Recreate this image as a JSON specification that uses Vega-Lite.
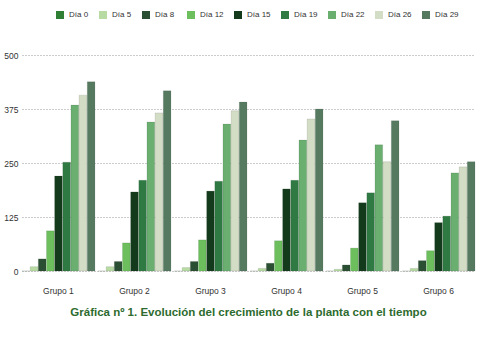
{
  "$schema": "https://vega.github.io/schema/vega-lite/v6.json",
  "width": 453,
  "height": 216,
  "autosize": {"type": "none"},
  "padding": {"left": 22, "top": 55, "right": 25, "bottom": 79},
  "background": "white",
  "title": {
    "text": "Gráfica nº 1. Evolución del crecimiento de la planta con el tiempo",
    "orient": "bottom",
    "anchor": "middle",
    "offset": 12,
    "font": "Liberation Sans",
    "fontSize": 11.5,
    "fontWeight": "bold",
    "color": "#2d6b2f"
  },
  "config": {
    "view": {"stroke": null},
    "font": "Liberation Sans"
  },
  "data": {
    "values": [
      {"grupo": "Grupo 1", "dia": "Día 0", "v": 0},
      {"grupo": "Grupo 1", "dia": "Día 5", "v": 10},
      {"grupo": "Grupo 1", "dia": "Día  8", "v": 28},
      {"grupo": "Grupo 1", "dia": "Día 12", "v": 93},
      {"grupo": "Grupo 1", "dia": "Día 15", "v": 220},
      {"grupo": "Grupo 1", "dia": "Día 19", "v": 252},
      {"grupo": "Grupo 1", "dia": "Día 22", "v": 384},
      {"grupo": "Grupo 1", "dia": "Día 26", "v": 407},
      {"grupo": "Grupo 1", "dia": "Día 29", "v": 438},
      {"grupo": "Grupo 2", "dia": "Día 0", "v": 0},
      {"grupo": "Grupo 2", "dia": "Día 5", "v": 10},
      {"grupo": "Grupo 2", "dia": "Día  8", "v": 22},
      {"grupo": "Grupo 2", "dia": "Día 12", "v": 65},
      {"grupo": "Grupo 2", "dia": "Día 15", "v": 183},
      {"grupo": "Grupo 2", "dia": "Día 19", "v": 210},
      {"grupo": "Grupo 2", "dia": "Día 22", "v": 345},
      {"grupo": "Grupo 2", "dia": "Día 26", "v": 366},
      {"grupo": "Grupo 2", "dia": "Día 29", "v": 417},
      {"grupo": "Grupo 3", "dia": "Día 0", "v": 0},
      {"grupo": "Grupo 3", "dia": "Día 5", "v": 8},
      {"grupo": "Grupo 3", "dia": "Día  8", "v": 22},
      {"grupo": "Grupo 3", "dia": "Día 12", "v": 72},
      {"grupo": "Grupo 3", "dia": "Día 15", "v": 185},
      {"grupo": "Grupo 3", "dia": "Día 19", "v": 208},
      {"grupo": "Grupo 3", "dia": "Día 22", "v": 340},
      {"grupo": "Grupo 3", "dia": "Día 26", "v": 371},
      {"grupo": "Grupo 3", "dia": "Día 29", "v": 391},
      {"grupo": "Grupo 4", "dia": "Día 0", "v": 0},
      {"grupo": "Grupo 4", "dia": "Día 5", "v": 6},
      {"grupo": "Grupo 4", "dia": "Día  8", "v": 18},
      {"grupo": "Grupo 4", "dia": "Día 12", "v": 70},
      {"grupo": "Grupo 4", "dia": "Día 15", "v": 190},
      {"grupo": "Grupo 4", "dia": "Día 19", "v": 210},
      {"grupo": "Grupo 4", "dia": "Día 22", "v": 303},
      {"grupo": "Grupo 4", "dia": "Día 26", "v": 352},
      {"grupo": "Grupo 4", "dia": "Día 29", "v": 375},
      {"grupo": "Grupo 5", "dia": "Día 0", "v": 0},
      {"grupo": "Grupo 5", "dia": "Día 5", "v": 4},
      {"grupo": "Grupo 5", "dia": "Día  8", "v": 14},
      {"grupo": "Grupo 5", "dia": "Día 12", "v": 53},
      {"grupo": "Grupo 5", "dia": "Día 15", "v": 158},
      {"grupo": "Grupo 5", "dia": "Día 19", "v": 181},
      {"grupo": "Grupo 5", "dia": "Día 22", "v": 292},
      {"grupo": "Grupo 5", "dia": "Día 26", "v": 253},
      {"grupo": "Grupo 5", "dia": "Día 29", "v": 348},
      {"grupo": "Grupo 6", "dia": "Día 0", "v": 0},
      {"grupo": "Grupo 6", "dia": "Día 5", "v": 6},
      {"grupo": "Grupo 6", "dia": "Día  8", "v": 24},
      {"grupo": "Grupo 6", "dia": "Día 12", "v": 47},
      {"grupo": "Grupo 6", "dia": "Día 15", "v": 112},
      {"grupo": "Grupo 6", "dia": "Día 19", "v": 127},
      {"grupo": "Grupo 6", "dia": "Día 22", "v": 227},
      {"grupo": "Grupo 6", "dia": "Día 26", "v": 241},
      {"grupo": "Grupo 6", "dia": "Día 29", "v": 253}
    ]
  },
  "mark": {"type": "bar", "stroke": "#3a4a3a", "strokeOpacity": 0.25, "strokeWidth": 0.5},
  "encoding": {
    "x": {
      "field": "grupo",
      "type": "nominal",
      "scale": {"paddingInner": 0.04, "paddingOuter": 0},
      "axis": {
        "title": null,
        "labelAngle": 0,
        "ticks": false,
        "domain": false,
        "labelFontSize": 8.5,
        "labelColor": "#333333",
        "labelPadding": 15
      }
    },
    "xOffset": {
      "field": "dia",
      "type": "nominal",
      "sort": ["Día 0", "Día 5", "Día  8", "Día 12", "Día 15", "Día 19", "Día 22", "Día 26", "Día 29"],
      "scale": {"paddingInner": 0.06}
    },
    "y": {
      "field": "v",
      "type": "quantitative",
      "scale": {"domain": [0, 500], "nice": false},
      "axis": {
        "title": null,
        "values": [0, 125, 250, 375, 500],
        "ticks": false,
        "domain": false,
        "labelFontSize": 8.5,
        "labelColor": "#333333",
        "labelPadding": 4,
        "gridColor": "#999999",
        "gridDash": [1, 2],
        "gridWidth": 1
      }
    },
    "color": {
      "field": "dia",
      "type": "nominal",
      "scale": {
        "domain": ["Día 0", "Día 5", "Día  8", "Día 12", "Día 15", "Día 19", "Día 22", "Día 26", "Día 29"],
        "range": ["#2f7f35", "#b8dba4", "#2b4f33", "#6cbf5c", "#143a1c", "#2f7a43", "#6aae70", "#d3dcc4", "#557a60"]
      },
      "legend": {
        "title": null,
        "orient": "none",
        "legendX": 34,
        "legendY": -44,
        "direction": "horizontal",
        "symbolType": "square",
        "symbolSize": 64,
        "symbolStrokeWidth": 0,
        "labelFontSize": 8,
        "labelColor": "#333333",
        "columnPadding": 10,
        "labelOffset": 5
      }
    }
  }
}
